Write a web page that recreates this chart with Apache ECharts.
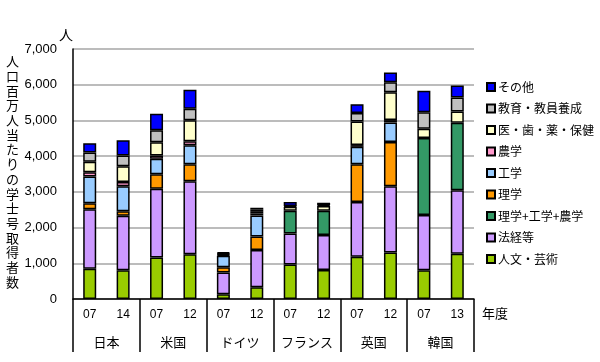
<!DOCTYPE html>
<html><head><meta charset="utf-8">
<script src="https://cdn.jsdelivr.net/npm/echarts@6/dist/echarts.min.js"></script>
<style>html,body{margin:0;padding:0;background:#fff}#c{width:600px;height:362px}</style>
</head><body><div id="c"></div>
<script>
var years = ['07','14','07','12','07','12','07','12','07','12','07','13'];
var countries = ['日本','米国','ドイツ','フランス','英国','韓国'];
var yTicks = [0,1000,2000,3000,4000,5000,6000,7000];

var humanities  = [850, 805, 1160, 1255, 130, 330, 965, 815, 1180, 1300, 805, 1265];
var law         = [1660, 1525, 1925, 2040, 610, 1045, 870, 975, 1535, 1860, 1545, 1780];
var sciEngAgri  = [null,null,null,null,null,null,635,680,null,null,2160,1890];
var science     = [170,130,405,475,150,375,null,null,1060,1235,null,null];
var engineering = [750,695,440,535,320,590,null,null,485,550,null,null];
var agriculture = [120,120,85,110,25,50,null,null,50,65,null,null];
var medical     = [290,440,375,590,25,50,115,135,660,780,260,315];
var education   = [260,300,335,320,20,60,20,20,235,280,460,395];
var other       = [260,430,460,535,25,55,110,70,250,270,600,330];

var seriesDefs = [
  ['人文・芸術', humanities, '#99CC00'],
  ['法経等', law, '#CC99FF'],
  ['理学+工学+農学', sciEngAgri, '#339966'],
  ['理学', science, '#FF9900'],
  ['工学', engineering, '#99CCFF'],
  ['農学', agriculture, '#FF99CC'],
  ['医・歯・薬・保健', medical, '#FFFFCC'],
  ['教育・教員養成', education, '#C0C0C0'],
  ['その他', other, '#0000FF']
];
var FONT = '"Liberation Sans", "Noto Sans CJK JP", sans-serif';
var chart = echarts.init(document.getElementById('c'), null, {renderer:'canvas'});
var title = '人口百万人当たりの学士号取得者数';
chart.setOption({
  animation:false,
  textStyle:{fontFamily:FONT},
  grid:{left:73, right:126, top:49, bottom:63, containLabel:false},
  legend:{
    orient:'vertical', left:481, top:76, itemWidth:8, itemHeight:8, itemGap:9.5,
    data: seriesDefs.map(function(s){return s[0];}).reverse(),
    textStyle:{fontSize:12, color:'#000', fontFamily:'"Noto Sans CJK JP", sans-serif', padding:[0,0,0,-2]},
    icon:'rect'
  },
  xAxis:[
    {type:'category', data:years, position:'bottom',
     axisLine:{show:true, lineStyle:{color:'#000', width:1.5}},
     axisTick:{show:false},
     axisLabel:{fontSize:12, color:'#000', margin:10, interval:0}},
    {type:'category', data:countries, position:'bottom', offset:0,
     axisLine:{show:false},
     axisTick:{show:true, length:53, interval:0, lineStyle:{color:'#000', width:1.5}},
     axisLabel:{fontSize:13, color:'#000', margin:37, interval:0, fontFamily:'"Noto Sans CJK JP", sans-serif'}}
  ],
  yAxis:{type:'value', min:0, max:7000, interval:1000,
    axisLine:{show:true, lineStyle:{color:'#000', width:1.5}},
    axisTick:{show:false},
    splitLine:{show:true, lineStyle:{color:'#A6A6A6', width:1.5}},
    axisLabel:{fontSize:13, color:'#000', margin:16,
      formatter:function(v){return yTicks.indexOf(v)>=0 ? v.toLocaleString('en-US') : '';}}
  },
  graphic:[
    {type:'text', left:6, top:54, style:{text:title.split('').join('\n'), font:'13px "Noto Sans CJK JP"', lineHeight:14.7, fill:'#000'}},
    {type:'text', left:59, top:28, style:{text:'人', font:'14px "Noto Sans CJK JP"', fill:'#000'}},
    {type:'text', left:482, top:307, style:{text:'年度', font:'13px "Noto Sans CJK JP"', fill:'#000'}}
  ],
  series: seriesDefs.map(function(s){
    return {name:s[0], type:'bar', stack:'a', data:s[1], barWidth:13,
      itemStyle:{color:s[2], borderColor:'#000', borderWidth:1.5}};
  })
});
</script></body></html>
